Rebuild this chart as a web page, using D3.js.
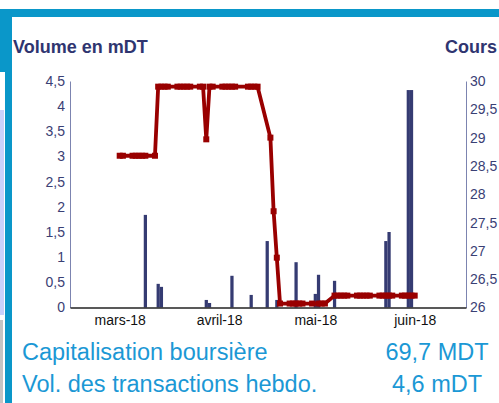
<!DOCTYPE html>
<html>
<head>
<meta charset="utf-8">
<script src="https://cdn.jsdelivr.net/npm/d3@7"></script>
<style>
  body { margin: 0; background: #fff; }
  svg { display: block; font-family: "Liberation Sans", Arial, sans-serif; }
</style>
</head>
<body>
<div id="chart"></div>
<script>
var canvasWidth = 499;
var canvasHeight = 403;

/* volume bars (mDT) */
var volDates = ["2018-03-09","2018-03-13","2018-03-14","2018-03-28","2018-03-29","2018-04-05",
    "2018-04-11","2018-04-16","2018-04-19","2018-04-25","2018-05-01","2018-05-02","2018-05-07",
    "2018-05-23","2018-05-24","2018-05-30","2018-05-31"];
var volValues = [1.84,0.47,0.41,0.15,0.09,0.63,0.25,1.32,0.15,0.90,0.27,0.65,0.53,1.32,1.50,4.32,4.32];

/* cours (DT) */
var coursDates = ["2018-03-01","2018-03-02","2018-03-05","2018-03-06","2018-03-07","2018-03-08","2018-03-09","2018-03-12",
    "2018-03-13","2018-03-14","2018-03-15","2018-03-16","2018-03-19","2018-03-20","2018-03-21","2018-03-22","2018-03-23",
    "2018-03-26","2018-03-27","2018-03-28","2018-03-29","2018-03-30","2018-04-02","2018-04-03","2018-04-04","2018-04-05",
    "2018-04-06","2018-04-10","2018-04-11","2018-04-12","2018-04-13","2018-04-17","2018-04-18","2018-04-19","2018-04-20",
    "2018-04-23","2018-04-24","2018-04-25","2018-04-26","2018-04-27","2018-04-30","2018-05-02","2018-05-03","2018-05-04",
    "2018-05-07","2018-05-08","2018-05-09","2018-05-10","2018-05-11","2018-05-14","2018-05-15","2018-05-16","2018-05-17",
    "2018-05-18","2018-05-21","2018-05-22","2018-05-23","2018-05-24","2018-05-25","2018-05-28","2018-05-29","2018-05-30",
    "2018-05-31","2018-06-01"];
var coursValues = [28.68,28.68,28.68,28.68,28.68,28.68,28.68,28.68,
    29.9,29.9,29.9,29.9,29.9,29.9,29.9,29.9,29.9,
    29.9,29.9,28.97,29.9,29.9,29.9,29.9,29.9,29.9,
    29.9,29.9,29.9,29.9,29.9,29.0,27.7,26.88,26.07,
    26.07,26.07,26.07,26.07,26.07,26.07,26.07,26.07,26.07,
    26.21,26.21,26.21,26.21,26.21,26.21,26.21,26.21,26.21,
    26.21,26.21,26.21,26.21,26.21,26.21,26.21,26.21,26.21,
    26.21,26.21];

var monthTicks = ["2018-03-01","2018-04-01","2018-05-01","2018-06-01"];
var monthLabels = ["mars-18","avril-18","mai-18","juin-18"];
var volTicks = [0,0.5,1,1.5,2,2.5,3,3.5,4,4.5];
var coursTicks = [26,26.5,27,27.5,28,28.5,29,29.5,30];

var infoLabels = ["Capitalisation boursière","Vol. des transactions hebdo."];
var infoValues = ["69,7 MDT","4,6 mDT"];

var parse = d3.utcParse("%Y-%m-%d");
var comma = function(d){ return String(d).replace(".", ","); };

var svg = d3.select("#chart")
    .append("svg")
    .attr("width",canvasWidth)
    .attr("height",canvasHeight);

/*frame*/
svg.append("rect").attr("x",0).attr("y",9).attr("width",canvasWidth).attr("height",8).attr("fill","#0a97c9");
svg.append("rect").attr("x",0).attr("y",9).attr("width",12).attr("height",63).attr("fill","#0a97c9");
svg.append("rect").attr("x",5).attr("y",9).attr("width",7).attr("height",canvasHeight).attr("fill","#0a97c9");
svg.append("rect").attr("x",0).attr("y",110).attr("width",4).attr("height",205).attr("fill","#c9d1fb");
svg.append("rect").attr("x",0).attr("y",320).attr("width",3).attr("height",83).attr("fill","#c4c4c4");

/*scales*/
var xScale = d3.scaleUtc()
    .domain([new Date(Date.UTC(2018,1,13,12)), new Date(Date.UTC(2018,5,17))])
    .range([70,466]);
var yVol = d3.scaleLinear().domain([0,4.5]).range([307.5,81]);
var yCours = d3.scaleLinear().domain([26,30]).range([307.5,81]);

/*axis titles*/
svg.append("text").attr("x",13).attr("y",53)
    .attr("font-size",18).attr("font-weight","bold").attr("fill","#2f3570")
    .text("Volume en mDT");
svg.append("text").attr("x",445).attr("y",53)
    .attr("font-size",18).attr("font-weight","bold").attr("fill","#2f3570")
    .text("Cours");

/*left axis*/
var gl = svg.append("g")
    .attr("transform","translate(70,0)")
    .call(d3.axisLeft(yVol).tickValues(volTicks).tickFormat(comma).tickSize(0).tickPadding(5));
gl.select(".domain").attr("stroke","#7c84b0");
gl.selectAll("text").attr("font-size",14).attr("fill","#3a4075").attr("font-family","Liberation Sans, Arial");

/*right axis*/
var gr = svg.append("g")
    .attr("transform","translate(466,0)")
    .call(d3.axisRight(yCours).tickValues(coursTicks).tickFormat(comma).tickSize(0).tickPadding(4));
gr.select(".domain").attr("stroke","#7c84b0");
gr.selectAll("text").attr("font-size",14).attr("fill","#3a4075").attr("font-family","Liberation Sans, Arial");

/*bars*/
svg.append("g")
    .selectAll("rect")
    .data(volDates)
    .join("rect")
    .attr("x",function(d){ return xScale(parse(d)) - 1.6; })
    .attr("width",3.25)
    .attr("y",function(d,i){ return yVol(volValues[i]); })
    .attr("height",function(d,i){ return yVol(0) - yVol(volValues[i]); })
    .attr("fill","#353b72");

/*bottom axis*/
var gb = svg.append("g")
    .attr("transform","translate(0,307.5)")
    .call(d3.axisBottom(xScale)
        .tickValues(monthTicks.map(parse))
        .tickFormat(function(d,i){ return monthLabels[i]; })
        .tickSize(0).tickPadding(7.5));
gb.select(".domain").attr("stroke","#222").attr("stroke-width",1.5);
gb.selectAll("text").attr("font-size",14).attr("fill","#111").attr("font-family","Liberation Sans, Arial");

/*cours line*/
var coursData = coursDates.map(function(d,i){ return {date: parse(d), value: coursValues[i]}; });
svg.append("path")
    .datum(coursData)
    .attr("fill","none")
    .attr("stroke","#990000")
    .attr("stroke-width",3.8)
    .attr("stroke-linejoin","round")
    .attr("d", d3.line()
        .x(function(d){ return xScale(d.date); })
        .y(function(d){ return yCours(d.value); }));
svg.append("g")
    .selectAll("rect")
    .data(coursData)
    .join("rect")
    .attr("x",function(d){ return xScale(d.date) - 3; })
    .attr("y",function(d){ return yCours(d.value) - 3; })
    .attr("width",6)
    .attr("height",6)
    .attr("fill","#990000");

/*info lines*/
svg.append("g")
    .selectAll("text")
    .data(infoLabels)
    .join("text")
    .attr("x",22)
    .attr("y",function(d,i){ return 360 + i*32; })
    .attr("font-size",23.5)
    .attr("fill","#1b98d5")
    .text(function(d){ return d; });
svg.append("g")
    .selectAll("text")
    .data(infoValues)
    .join("text")
    .attr("x",437)
    .attr("y",function(d,i){ return 360 + i*32; })
    .attr("text-anchor","middle")
    .attr("font-size",23.5)
    .attr("fill","#1b98d5")
    .text(function(d){ return d; });
</script>
</body>
</html>
